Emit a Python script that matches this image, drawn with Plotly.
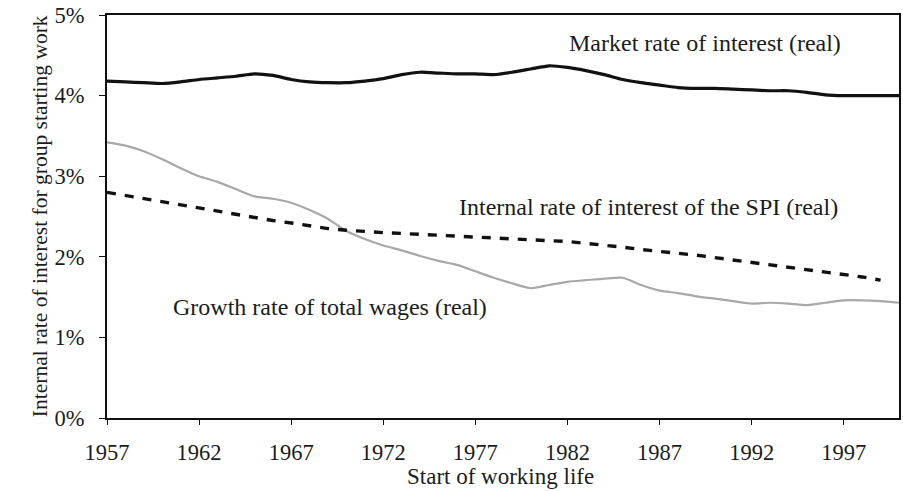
import plotly.graph_objects as go

years = list(range(1957, 2001))
years_spi = list(range(1957, 2000))

market_rate = [4.18, 4.17, 4.16, 4.15, 4.17, 4.20, 4.22, 4.24, 4.27, 4.25,
               4.20, 4.17, 4.16, 4.16, 4.18, 4.21, 4.26, 4.29, 4.28, 4.27,
               4.27, 4.26, 4.29, 4.33, 4.37, 4.35, 4.31, 4.26, 4.20, 4.16,
               4.13, 4.10, 4.09, 4.09, 4.08, 4.07, 4.06, 4.06, 4.04, 4.01,
               4.00, 4.00, 4.00, 4.00]

spi_rate = [2.80, 2.76, 2.72, 2.68, 2.64, 2.61, 2.57, 2.53, 2.49, 2.45,
            2.42, 2.38, 2.35, 2.33, 2.31, 2.30, 2.29, 2.28, 2.27, 2.26,
            2.25, 2.24, 2.23, 2.22, 2.20, 2.19, 2.17, 2.14, 2.12, 2.09,
            2.07, 2.04, 2.02, 1.99, 1.96, 1.93, 1.90, 1.88, 1.85, 1.82,
            1.79, 1.75, 1.71]

wage_growth = [3.42, 3.38, 3.31, 3.21, 3.10, 3.00, 2.93, 2.84, 2.75, 2.72,
               2.67, 2.58, 2.47, 2.32, 2.22, 2.14, 2.08, 2.01, 1.95, 1.90,
               1.82, 1.74, 1.67, 1.61, 1.65, 1.69, 1.71, 1.73, 1.74, 1.65,
               1.58, 1.55, 1.51, 1.48, 1.45, 1.42, 1.43, 1.42, 1.40, 1.43,
               1.46, 1.46, 1.45, 1.43]

x_ticks = [1957, 1962, 1967, 1972, 1977, 1982, 1987, 1992, 1997]
y_ticks = [0, 1, 2, 3, 4, 5]
y_tick_labels = ["0%", "1%", "2%", "3%", "4%", "5%"]

labels = {
    "market": "Market rate of interest (real)",
    "spi": "Internal rate of interest of the SPI (real)",
    "wages": "Growth rate of total wages (real)",
}
x_title = "Start of working life"
y_title = "Internal rate of interest for group starting work"

FONT = "Liberation Serif, Times New Roman, serif"
TXT = "#1c1c1c"

fig = go.Figure()
fig.add_trace(go.Scatter(x=years, y=wage_growth, mode="lines",
                         line=dict(color="#a8a8a8", width=2.2, shape="spline", smoothing=0.6),
                         showlegend=False, hoverinfo="skip"))
fig.add_trace(go.Scatter(x=years_spi, y=spi_rate, mode="lines",
                         line=dict(color="#111111", width=3.4, dash="9px,9px"),
                         showlegend=False, hoverinfo="skip"))
fig.add_trace(go.Scatter(x=years, y=market_rate, mode="lines",
                         line=dict(color="#111111", width=3.2, shape="spline", smoothing=0.6),
                         showlegend=False, hoverinfo="skip"))

fig.add_annotation(x=1982.0, y=4.65, text=labels["market"], showarrow=False,
                   xanchor="left", yanchor="middle", font=dict(size=24, color=TXT))
fig.add_annotation(x=1976.0, y=2.62, text=labels["spi"], showarrow=False,
                   xanchor="left", yanchor="middle", font=dict(size=24, color=TXT))
fig.add_annotation(x=1960.5, y=1.38, text=labels["wages"], showarrow=False,
                   xanchor="left", yanchor="middle", font=dict(size=24, color=TXT))

fig.add_annotation(xref="paper", yref="paper", x=0.497, y=-0.146, text=x_title,
                   showarrow=False, xanchor="center", yanchor="middle",
                   font=dict(size=23, color=TXT))
fig.add_annotation(xref="paper", yref="paper", x=-0.085, y=0.5, text=y_title,
                   textangle=-90, showarrow=False, xanchor="center", yanchor="middle",
                   font=dict(size=21.5, color=TXT))

fig.update_layout(
    width=903, height=491,
    margin=dict(l=107, r=4, t=15, b=73),
    paper_bgcolor="white", plot_bgcolor="white",
    font=dict(family=FONT, size=22.5, color=TXT),
    xaxis=dict(range=[1957, 2000], tickvals=x_ticks, showgrid=False, zeroline=False,
               showline=True, linecolor="#111", linewidth=2, mirror=True,
               ticks="outside", ticklen=5, tickcolor="#111", ticklabelstandoff=8,
               automargin=False),
    yaxis=dict(range=[0, 5], tickvals=y_ticks, ticktext=y_tick_labels,
               showgrid=False, zeroline=False,
               showline=True, linecolor="#111", linewidth=2, mirror=True,
               ticks="outside", ticklen=6, tickcolor="#111", ticklabelstandoff=10,
               automargin=False),
)

fig.write_html(
    "out.html",
    config={"displayModeBar": False},
    post_script="document.body.style.margin='0';document.body.style.overflow='hidden';",
)
